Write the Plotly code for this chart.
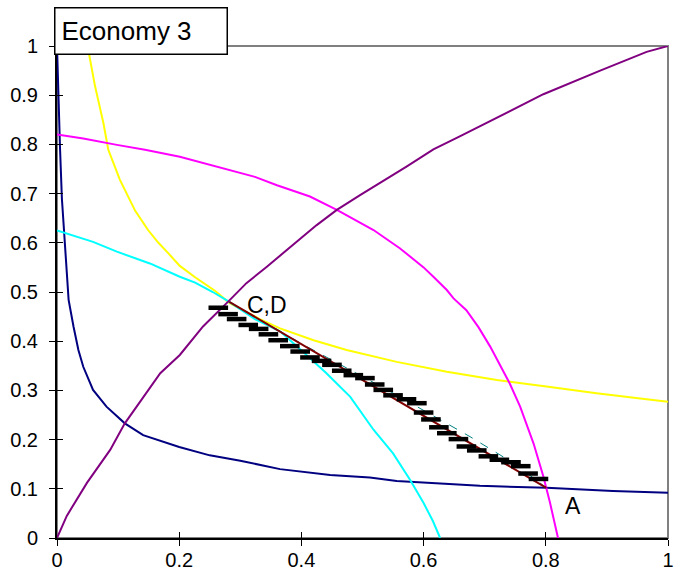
import plotly.graph_objects as go

# ---- data ----
navy_x = [0.0, 0.002, 0.005, 0.008, 0.013, 0.019, 0.027, 0.035, 0.043, 0.059, 0.081, 0.111,
          0.141, 0.2, 0.25, 0.3, 0.365, 0.447, 0.512, 0.556, 0.692, 0.801, 0.91, 1.0]
navy_y = [1.0, 0.9, 0.79, 0.69, 0.585, 0.484, 0.43, 0.382, 0.348, 0.301, 0.267, 0.233,
          0.209, 0.185, 0.168, 0.157, 0.14, 0.128, 0.123, 0.116, 0.106, 0.102, 0.0955, 0.092]

yellow_x = [0.05, 0.062, 0.076, 0.084, 0.103, 0.111, 0.128, 0.149, 0.166, 0.182, 0.201, 0.226,
            0.259, 0.282, 0.332, 0.365, 0.42, 0.474, 0.556, 0.638, 0.72, 0.801, 0.883, 0.965, 1.0]
yellow_y = [1.0, 0.92, 0.843, 0.789, 0.728, 0.707, 0.665, 0.626, 0.6, 0.579, 0.553, 0.53,
            0.502, 0.478, 0.445, 0.426, 0.402, 0.382, 0.358, 0.338, 0.321, 0.308, 0.294, 0.282, 0.277]

cyan_x = [0.0, 0.059, 0.098, 0.152, 0.201, 0.226, 0.255, 0.282, 0.324, 0.365, 0.403, 0.441,
          0.48, 0.518, 0.55, 0.578, 0.6, 0.615, 0.627]
cyan_y = [0.625, 0.602, 0.582, 0.558, 0.531, 0.519, 0.5, 0.48, 0.445, 0.42, 0.378, 0.335,
          0.287, 0.22, 0.172, 0.118, 0.071, 0.035, 0.0]

magenta_x = [0.0, 0.043, 0.098, 0.144, 0.201, 0.283, 0.324, 0.36, 0.414, 0.458, 0.518, 0.561,
             0.583, 0.6, 0.616, 0.638, 0.649, 0.67, 0.69, 0.709, 0.741, 0.758, 0.78, 0.796,
             0.807, 0.82]
magenta_y = [0.82, 0.812, 0.799, 0.789, 0.775, 0.748, 0.734, 0.717, 0.694, 0.667, 0.626, 0.589,
             0.568, 0.55, 0.531, 0.504, 0.487, 0.463, 0.428, 0.389, 0.314, 0.267, 0.192, 0.125,
             0.071, 0.0]

purple_x = [0.0, 0.016, 0.049, 0.087, 0.111, 0.169, 0.201, 0.239, 0.283, 0.31, 0.343, 0.387,
            0.425, 0.458, 0.496, 0.572, 0.616, 0.66, 0.725, 0.796, 0.889, 0.965, 1.0]
purple_y = [0.0, 0.045, 0.112, 0.179, 0.233, 0.335, 0.372, 0.43, 0.484, 0.518, 0.551, 0.596,
            0.636, 0.667, 0.697, 0.755, 0.79, 0.817, 0.858, 0.902, 0.95, 0.988, 1.0]

red_x = [0.282, 0.801]
red_y = [0.48, 0.102]

teal_x = [0.282, 0.4, 0.545, 0.676, 0.75, 0.801]
teal_y = [0.48, 0.395, 0.298, 0.206, 0.15, 0.102]

steps_x = [0.264, 0.280, 0.294, 0.313, 0.330, 0.346, 0.362, 0.381, 0.398, 0.414, 0.433, 0.450,
           0.466, 0.485, 0.504, 0.520, 0.534, 0.550, 0.572, 0.589, 0.600, 0.612, 0.625, 0.638,
           0.657, 0.670, 0.687, 0.706, 0.724, 0.743, 0.759, 0.771, 0.788]
steps_y = [0.468, 0.455, 0.445, 0.433, 0.425, 0.414, 0.402, 0.390, 0.379, 0.367, 0.360, 0.352,
           0.340, 0.331, 0.325, 0.312, 0.301, 0.290, 0.282, 0.274, 0.255, 0.241, 0.225, 0.213,
           0.201, 0.186, 0.178, 0.166, 0.159, 0.154, 0.146, 0.131, 0.120]

labels = [("C,D", 0.343, 0.473), ("A", 0.845, 0.065)]
x_ticks = [0, 0.2, 0.4, 0.6, 0.8, 1]
y_ticks = [0, 0.1, 0.2, 0.3, 0.4, 0.5, 0.6, 0.7, 0.8, 0.9, 1]

FONT = "Liberation Sans, Arial, sans-serif"

fig = go.Figure()


def line(x, y, color, width=2, dash=None):
    fig.add_trace(go.Scatter(x=x, y=y, mode="lines",
                             line=dict(color=color, width=width, dash=dash),
                             hoverinfo="skip", showlegend=False))


line(navy_x, navy_y, "#000080")
line(yellow_x, yellow_y, "#FFFF00")
line(cyan_x, cyan_y, "#00FFFF")
line(magenta_x, magenta_y, "#FF00FF")
line(purple_x, purple_y, "#800080")
line(teal_x, teal_y, "#008080", width=1, dash="dash")
line(red_x, red_y, "#800000", width=2)

# staircase drawn on the overlay subplot (same ranges) so its inside ticks are rendered
fig.add_trace(go.Scatter(x=steps_x, y=steps_y, mode="markers", xaxis="x2", yaxis="y2",
                         marker=dict(symbol="line-ew", size=14, color="black",
                                     line=dict(color="black", width=4.5)),
                         hoverinfo="skip", showlegend=False))

for txt, lx, ly in labels:
    fig.add_annotation(x=lx, y=ly, text=txt, showarrow=False,
                       font=dict(family=FONT, size=23, color="black"))

# title box
fig.add_annotation(xref="paper", yref="paper", x=-0.005, y=1.079, xanchor="left", yanchor="top",
                   text="Economy 3", showarrow=False, align="left", width=159, height=33,
                   bgcolor="white", bordercolor="black", borderwidth=1.5, borderpad=6,
                   font=dict(family=FONT, size=26, color="black"))

# grey frame
fig.add_shape(type="rect", xref="paper", yref="paper", x0=0, y0=0, x1=1, y1=1,
              line=dict(color="#808080", width=2), layer="below")

common = dict(range=[0, 1], showgrid=False, zeroline=False, fixedrange=True, automargin=False)
fig.update_layout(
    width=675, height=581,
    margin=dict(l=57, r=7, t=46, b=43),
    paper_bgcolor="white", plot_bgcolor="white",
    font=dict(family=FONT, size=20, color="black"),
    xaxis=dict(**common, tickvals=x_ticks, ticktext=[f"{v:g}" for v in x_ticks],
               ticks="outside", ticklen=6, tickcolor="black", tickwidth=1,
               showline=True, linecolor="black", linewidth=2, ticklabelstandoff=-3),
    yaxis=dict(**common, tickvals=y_ticks, ticktext=[f"{v:g}" for v in y_ticks],
               ticks="outside", ticklen=6, tickcolor="black", tickwidth=1,
               showline=True, linecolor="black", linewidth=2, ticklabelstandoff=7),
    xaxis2=dict(**common, overlaying="x", anchor="y2", side="bottom", tickvals=x_ticks,
                showticklabels=False, ticks="inside", ticklen=6, tickcolor="black",
                showline=False),
    yaxis2=dict(**common, overlaying="y", anchor="x2", side="left", tickvals=y_ticks,
                showticklabels=False, ticks="inside", ticklen=6, tickcolor="black",
                showline=False),
)

fig.write_html("out.html", config={"displayModeBar": False},
               post_script="document.body.style.margin='0';document.body.style.overflow='hidden';")
